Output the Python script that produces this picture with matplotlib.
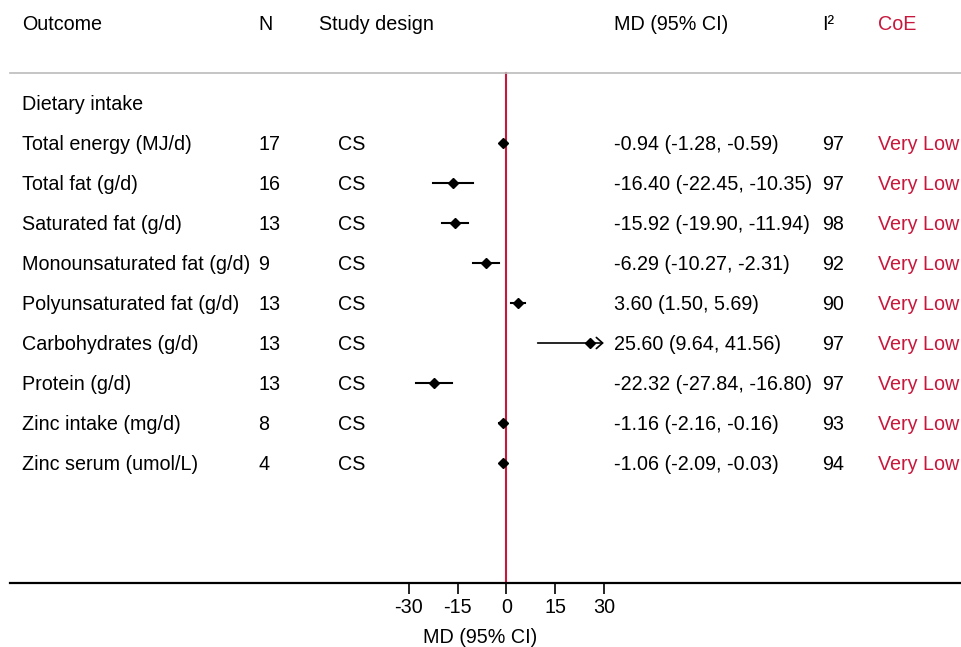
import matplotlib.pyplot as plt

plt.rcParams['font.family'] = ['Liberation Sans', 'DejaVu Sans']

# data
outcomes = ['Total energy (MJ/d)', 'Total fat (g/d)', 'Saturated fat (g/d)',
            'Monounsaturated fat (g/d)', 'Polyunsaturated fat (g/d)',
            'Carbohydrates (g/d)', 'Protein (g/d)', 'Zinc intake (mg/d)',
            'Zinc serum (umol/L)']
n_studies = [17, 16, 13, 9, 13, 13, 13, 8, 4]
design = ['CS'] * 9
md = [-0.94, -16.40, -15.92, -6.29, 3.60, 25.60, -22.32, -1.16, -1.06]
lo = [-1.28, -22.45, -19.90, -10.27, 1.50, 9.64, -27.84, -2.16, -2.09]
hi = [-0.59, -10.35, -11.94, -2.31, 5.69, 41.56, -16.80, -0.16, -0.03]
i2 = [97, 97, 98, 92, 90, 97, 97, 93, 94]
coe = ['Very Low'] * 9
ticks = [-30, -15, 0, 15, 30]
clip = 30

red = '#C8173C'
fs = 14.2
va = 'center_baseline'

fig = plt.figure(figsize=(9.61, 6.47), dpi=100)
# axes covers whole width; x in data units, y in row units
ax = fig.add_axes([0, 1 - 583 / 647, 1, 583 / 647])
ax.set_xlim(-155.8, 139.9)
ax.set_ylim(11, -3.575)

for s in ['top', 'right', 'left', 'bottom']:
    ax.spines[s].set_visible(False)
ax.set_yticks([])
ax.set_xticks(ticks)
ax.set_xticklabels([str(t) for t in ticks], fontsize=fs)
ax.tick_params(axis='x', length=8, width=1.2, pad=3)
ax.set_xlabel('MD (95% CI)', fontsize=fs, labelpad=8)

# bottom axis line and header separator
ax.plot([-152.7, 139.9], [11, 11], color='black', lw=1.6, clip_on=False)
ax.plot([-152.7, 139.9], [-1.75, -1.75], color='#bbbbbb', lw=1.2)
ax.plot([0, 0], [-1.75, 11], color=red, lw=1.5, zorder=1)

# column positions in data units (pixel/3.25 offset)
def px(p):
    return (p - 506.3) / 3.25

hy = -3.025
ax.text(px(22), hy, 'Outcome', fontsize=fs, va=va)
ax.text(px(258), hy, 'N', fontsize=fs, va=va)
ax.text(px(319), hy, 'Study design', fontsize=fs, va=va)
ax.text(px(614), hy, 'MD (95% CI)', fontsize=fs, va=va)
ax.text(px(822), hy, 'I²', fontsize=fs, va=va)
ax.text(px(878), hy, 'CoE', fontsize=fs, va=va, color=red)
ax.text(px(22), -1, 'Dietary intake', fontsize=fs, va=va)

for i in range(len(outcomes)):
    ax.text(px(22), i, outcomes[i], fontsize=fs, va=va)
    ax.text(px(258), i, str(n_studies[i]), fontsize=fs, va=va)
    ax.text(px(338), i, design[i], fontsize=fs, va=va)
    ax.text(px(614), i, f'{md[i]:.2f} ({lo[i]:.2f}, {hi[i]:.2f})',
            fontsize=fs, va=va)
    ax.text(px(822), i, str(i2[i]), fontsize=fs, va=va)
    ax.text(px(878), i, coe[i], fontsize=fs, va=va, color=red)

    if hi[i] > clip:
        ax.annotate('', xy=(clip, i), xytext=(lo[i], i),
                    arrowprops=dict(arrowstyle='->,head_length=0.45,head_width=0.4',
                                    color='black', lw=1.2, shrinkA=0, shrinkB=0))
    else:
        ax.plot([lo[i], hi[i]], [i, i], color='black', lw=1.5)
    ax.plot(md[i], i, marker='D', color='black', markersize=5)

fig.savefig('out.png', dpi=100)
